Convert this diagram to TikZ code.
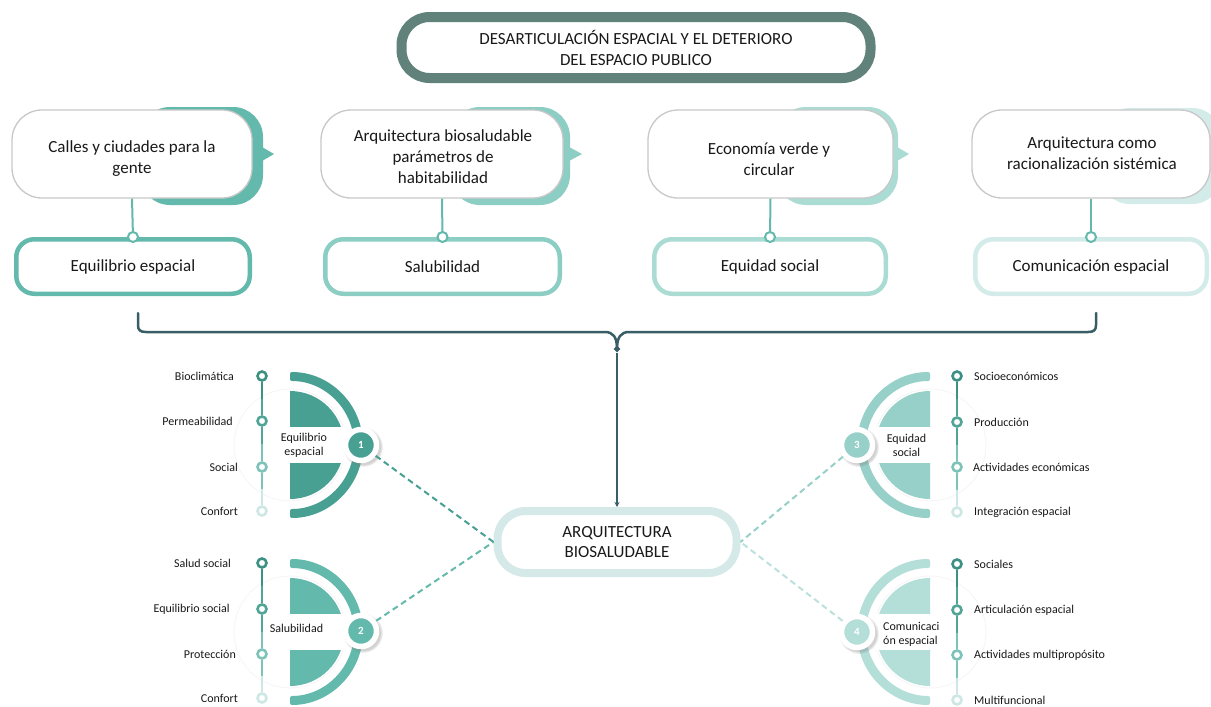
\documentclass[tikz,border=0pt]{standalone}
\usepackage{fontspec}
\setmainfont{Carlito}
\usetikzlibrary{shadows,arrows.meta,calc,shapes.geometric}

\definecolor{titlec}{RGB}{96,130,122}
\definecolor{bracec}{RGB}{58,94,103}
\definecolor{ca}{RGB}{99,185,172}
\definecolor{cb}{RGB}{140,205,196}
\definecolor{cc}{RGB}{170,220,212}
\definecolor{cd}{RGB}{212,236,233}
\definecolor{graybd}{RGB}{200,200,200}
\definecolor{ga}{RGB}{72,160,146}
\definecolor{gb}{RGB}{99,185,172}
\definecolor{gc}{RGB}{150,208,200}
\definecolor{gd}{RGB}{180,222,216}
\definecolor{hubc}{RGB}{213,234,232}
\definecolor{ta}{RGB}{61,145,131}
\definecolor{tb}{RGB}{80,165,150}
\definecolor{tc}{RGB}{125,195,185}
\definecolor{td}{RGB}{205,232,228}
\definecolor{txt}{RGB}{25,25,25}
\definecolor{faintc}{RGB}{244,246,246}

% half-disc emblem: centre x, centre y, mirror (1 = opens right, -1 = opens left), colour
\newcommand{\halfpetal}[4]{%
  \begin{scope}[shift={(#1,#2)},xscale=#3]
    \draw[faintc, line width=0.8pt] (0,0) circle[radius=56];
    \fill[#4, rounded corners=2pt] (0,-73) arc[start angle=-90,end angle=90,radius=73]
      -- (0,64) arc[start angle=90,end angle=-90,radius=64] -- cycle;
    \fill[#4] (0,-54) arc[start angle=-90,end angle=90,radius=54] -- cycle;
    \fill[white] (-2,-18) rectangle (58,18);
  \end{scope}}

% vertical timeline with four stops: name prefix, x, y1, y2, y3, y4
\newcommand{\tlspine}[6]{%
  \node[tdot,draw=ta] (#1a) at (#2,#3) {};
  \node[tdot,draw=tb] (#1b) at (#2,#4) {};
  \node[tdot,draw=tc] (#1c) at (#2,#5) {};
  \node[tdot,draw=td] (#1d) at (#2,#6) {};
  \draw[tline,ta] (#1a) -- ($(#1a)!.5!(#1b)$);
  \draw[tline,tb] ($(#1a)!.5!(#1b)$) -- (#1b);
  \draw[tline,tb] (#1b) -- ($(#1b)!.5!(#1c)$);
  \draw[tline,tc] ($(#1b)!.5!(#1c)$) -- (#1c);
  \draw[tline,tc] (#1c) -- ($(#1c)!.5!(#1d)$);
  \draw[tline,td] ($(#1c)!.5!(#1d)$) -- (#1d);}

\begin{document}
\begin{tikzpicture}[x=1pt,y=-1pt,
  font=\fontsize{17}{21}\selectfont, text=txt,
  titlebox/.style={draw=titlec, fill=white, line width=10pt, rounded corners=28pt,
    minimum width=469pt, minimum height=61pt, align=center, inner sep=0pt},
  topbox/.style={draw=graybd, fill=white, line width=1.3pt, rounded corners=30pt,
    minimum height=88pt, inner sep=0pt},
  toptext/.style={align=center, inner sep=0pt},
  subbox/.style={fill=white, line width=4.5pt, rounded corners=18pt,
    minimum height=54.5pt, inner sep=0pt},
  stem/.style={draw=ca, line width=2pt},
  knot/.style={circle, fill=white, draw=ca, line width=2pt, minimum size=10pt, inner sep=0pt},
  hubbox/.style={draw=hubc, fill=white, line width=8pt, rounded corners=28pt,
    minimum width=239pt, minimum height=62pt, align=center, inner sep=0pt,
    font=\fontsize{17}{20}\selectfont},
  brace/.style={draw=bracec, line width=2.5pt, line cap=round},
  tdot/.style={circle, fill=white, line width=2.6pt, minimum size=9pt, inner sep=0pt},
  tline/.style={line width=2.6pt},
  lbl/.style={font=\fontsize{12}{14}\selectfont, inner sep=0pt},
  glabel/.style={font=\fontsize{12}{14}\selectfont, align=center, inner sep=0pt},
  badge/.style={circle, draw=white, line width=5.5pt, minimum size=31pt, inner sep=0pt,
    text=white, font=\fontsize{11}{11}\selectfont\bfseries,
    circular drop shadow={shadow scale=1.3, opacity=0.35}},
  dashlink/.style={line width=2pt, dash pattern=on 6pt off 4pt}]

\useasboundingbox (0,0) rectangle (1211,707);
\fill[white] (0,0) rectangle (1211,707);

% title
\node[titlebox] (title) at (636,47.5) {DESARTICULACIÓN ESPACIAL Y EL DETERIORO\\DEL ESPACIO PUBLICO};

% coloured backings of the upper cards
\fill[ca, rounded corners=30pt] (140,107) rectangle (263,205);
\fill[ca] (262,147) -- (274,154) -- (262,161) -- cycle;
\fill[cb, rounded corners=30pt] (450,107) rectangle (570,205);
\fill[cb] (569,147) -- (582,154) -- (569,161) -- cycle;
\fill[cc, rounded corners=30pt] (776,107) rectangle (898,205);
\fill[cc] (897,147) -- (909,154) -- (897,161) -- cycle;
\fill[cd, rounded corners=30pt] (1100,108) rectangle (1222,204);

% upper cards
\node[topbox, minimum width=240pt] (t1) at (132,154) {};
\node[toptext] at (132,158.5) {Calles y ciudades para la\\gente};
\node[topbox, minimum width=242pt] (t2) at (442,154) {};
\node[toptext] at (443,157) {Arquitectura biosaludable\\parámetros de\\habitabilidad};
\node[topbox, minimum width=245pt] (t3) at (770.5,154) {};
\node[toptext] at (769,159.5) {Economía verde y\\circular};
\node[topbox, minimum width=238pt] (t4) at (1091,154) {};
\node[toptext] at (1092,153) {Arquitectura como\\racionalización sistémica};

% lower cards
\node[subbox, draw=ca, minimum width=233.5pt] (s1) at (133,266.5) {Equilibrio espacial};
\node[subbox, draw=cb, minimum width=234.5pt] (s2) at (442.5,266.5) {Salubilidad};
\node[subbox, draw=cc, minimum width=231.5pt] (s3) at (770,266.5) {Equidad social};
\node[subbox, draw=cd, minimum width=231.5pt] (s4) at (1091,266.5) {Comunicación espacial};

% stems between the cards
\foreach \u/\l in {t1/s1,t2/s2,t3/s3,t4/s4}{
  \draw[stem] (\u.south) -- (\l.north);
  \node[knot] at (\l.north) {};
}

% brace gathering the four cards
\coordinate (brL) at (138,313);
\coordinate (brR) at (1096,313);
\node[diamond, fill=bracec, minimum size=7pt, inner sep=0pt] (brTip) at (617,349) {};
\draw[brace] (brL) -- (138,325) .. controls (138,330) and (140,332) .. (146,332)
  -- (605,332) .. controls (613,332) and (617,337) .. (brTip.center);
\draw[brace] (brR) -- (1096,325) .. controls (1096,330) and (1094,332) .. (1088,332)
  -- (629,332) .. controls (621,332) and (617,337) .. (brTip.center);

% central hub
\node[hubbox] (hub) at (617,542) {ARQUITECTURA\\BIOSALUDABLE};
\draw[bracec, line width=1.6pt, -{Stealth[length=5pt,width=5pt]}] (brTip.south) -- (hub.north);

% emblems
\halfpetal{290}{445}{1}{ga}
\halfpetal{290}{632}{1}{gb}
\halfpetal{930}{445}{-1}{gc}
\halfpetal{930}{632}{-1}{gd}

\node[glabel] (g1) at (304,445.5) {Equilibrio\\espacial};
\node[glabel] (g2) at (296.5,628) {Salubilidad};
\node[glabel] (g3) at (906.5,445) {Equidad\\social};
\node[glabel, align=left, anchor=west] (g4) at (883,634) {Comunicaci\\ón espacial};

% dashed links to the hub
\node[badge, fill=ga] (b1) at (361,445) {1};
\node[badge, fill=gb] (b2) at (361,631) {2};
\node[badge, fill=gc] (b3) at (857,445) {3};
\node[badge, fill=gd] (b4) at (857,632) {4};
\draw[dashlink, ga] (b1) -- (hub.west);
\draw[dashlink, gb] (b2) -- (hub.west);
\draw[dashlink, gc] (b3) -- (hub.east);
\draw[dashlink, gd!90!white] (b4) -- (hub.east);

% timelines
\tlspine{p}{262}{376}{421}{467}{511}
\tlspine{q}{262}{563}{609}{654}{698}
\tlspine{r}{957}{376}{422}{467}{512}
\tlspine{s}{957}{564}{610}{655}{700}

\node[lbl, anchor=east] (pl1) at (234,376) {Bioclimática};
\node[lbl, anchor=east] (pl2) at (233,421) {Permeabilidad};
\node[lbl, anchor=east] (pl3) at (238,467) {Social};
\node[lbl, anchor=east] (pl4) at (238,511) {Confort};
\node[lbl, anchor=east] (ql1) at (231,563) {Salud social};
\node[lbl, anchor=east] (ql2) at (230,609) {Equilibrio social};
\node[lbl, anchor=east] (ql3) at (236,654) {Protección};
\node[lbl, anchor=east] (ql4) at (238,698) {Confort};
\node[lbl, anchor=west] (rl1) at (974,376) {Socioeconómicos};
\node[lbl, anchor=west] (rl2) at (974,422) {Producción};
\node[lbl, anchor=west] (rl3) at (973,467) {Actividades económicas};
\node[lbl, anchor=west] (rl4) at (974,512) {Integración espacial};
\node[lbl, anchor=west] (sl1) at (974,564) {Sociales};
\node[lbl, anchor=west] (sl2) at (974,610) {Articulación espacial};
\node[lbl, anchor=west] (sl3) at (974,655) {Actividades multipropósito};
\node[lbl, anchor=west] (sl4) at (974,700) {Multifuncional};

\end{tikzpicture}
\end{document}
